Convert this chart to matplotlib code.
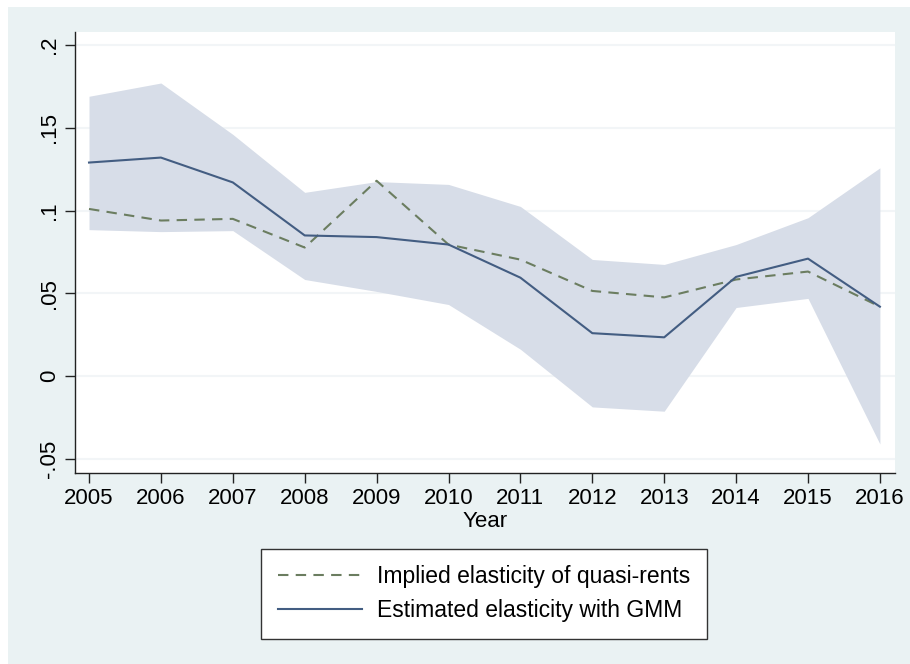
import matplotlib.pyplot as plt
from matplotlib.patches import Rectangle

plt.rcParams['font.family'] = ['Liberation Sans', 'DejaVu Sans']

years = [2005, 2006, 2007, 2008, 2009, 2010, 2011, 2012, 2013, 2014, 2015, 2016]

# GMM estimate with its confidence band
gmm = [0.129, 0.132, 0.117, 0.085, 0.084, 0.0795, 0.0595, 0.026, 0.0235, 0.060, 0.071, 0.042]
ci_upper = [0.169, 0.177, 0.146, 0.111, 0.1175, 0.1158, 0.1025, 0.0705, 0.0675, 0.0795, 0.0957, 0.1258]
ci_lower = [0.0885, 0.0873, 0.0879, 0.0584, 0.0512, 0.0433, 0.0163, -0.0185, -0.0211, 0.0415, 0.047, -0.0409]

# elasticity implied by quasi-rents
implied = [0.101, 0.094, 0.095, 0.0777, 0.118, 0.0795, 0.0704, 0.0515, 0.0476, 0.0584, 0.0632, 0.042]

yticks = [-0.05, 0, 0.05, 0.1, 0.15, 0.2]
ytick_labels = ['-.05', '0', '.05', '.1', '.15', '.2']

bg = '#eaf2f3'
fig = plt.figure(figsize=(9.1, 6.64), dpi=100, facecolor='white')
fig.patches.append(Rectangle((8 / 910, 0), 1, 1 - 7 / 664, transform=fig.transFigure,
                             facecolor=bg, edgecolor='none', zorder=-10))

ax = fig.add_axes([75 / 910, (664 - 473) / 664, 820 / 910, (473 - 32) / 664])
ax.set_facecolor('white')

ax.fill_between(years, ci_lower, ci_upper, color='#d7dde8', linewidth=0, zorder=1)
ax.plot(years, implied, color='#6b7d60', linestyle=(0, (5, 3.5)), linewidth=1.5,
        label='Implied elasticity of quasi-rents', zorder=3)
ax.plot(years, gmm, color='#435d82', linewidth=1.5,
        label='Estimated elasticity with GMM', zorder=3)

ax.set_xlim(2004.805, 2016.21)
ax.set_ylim(-0.0584, 0.2078)
ax.set_xticks(years)
ax.set_yticks(yticks)
ax.set_yticklabels(ytick_labels, rotation=90, va='center')
ax.tick_params(labelsize=16, length=7, width=1, color='#222222', pad=4)

for y in yticks:
    ax.axhline(y, color='#f2f5f7', linewidth=1.5, zorder=0)

for side in ['top', 'right']:
    ax.spines[side].set_visible(False)
for side in ['left', 'bottom']:
    ax.spines[side].set_color('#222222')
    ax.spines[side].set_linewidth(1)

ax.set_xlabel('Year', fontsize=16, labelpad=1)

leg = ax.legend(loc='upper center', bbox_to_anchor=(484 / 910, (664 - 549) / 664),
                bbox_transform=fig.transFigure, fontsize=16.5, handlelength=3.7,
                handletextpad=0.65, borderpad=0.7, labelspacing=0.5,
                fancybox=False, framealpha=1, borderaxespad=0)
leg.get_frame().set_edgecolor('#333333')
leg.get_frame().set_linewidth(1)

fig.savefig('out.png', dpi=100, facecolor=fig.get_facecolor())
